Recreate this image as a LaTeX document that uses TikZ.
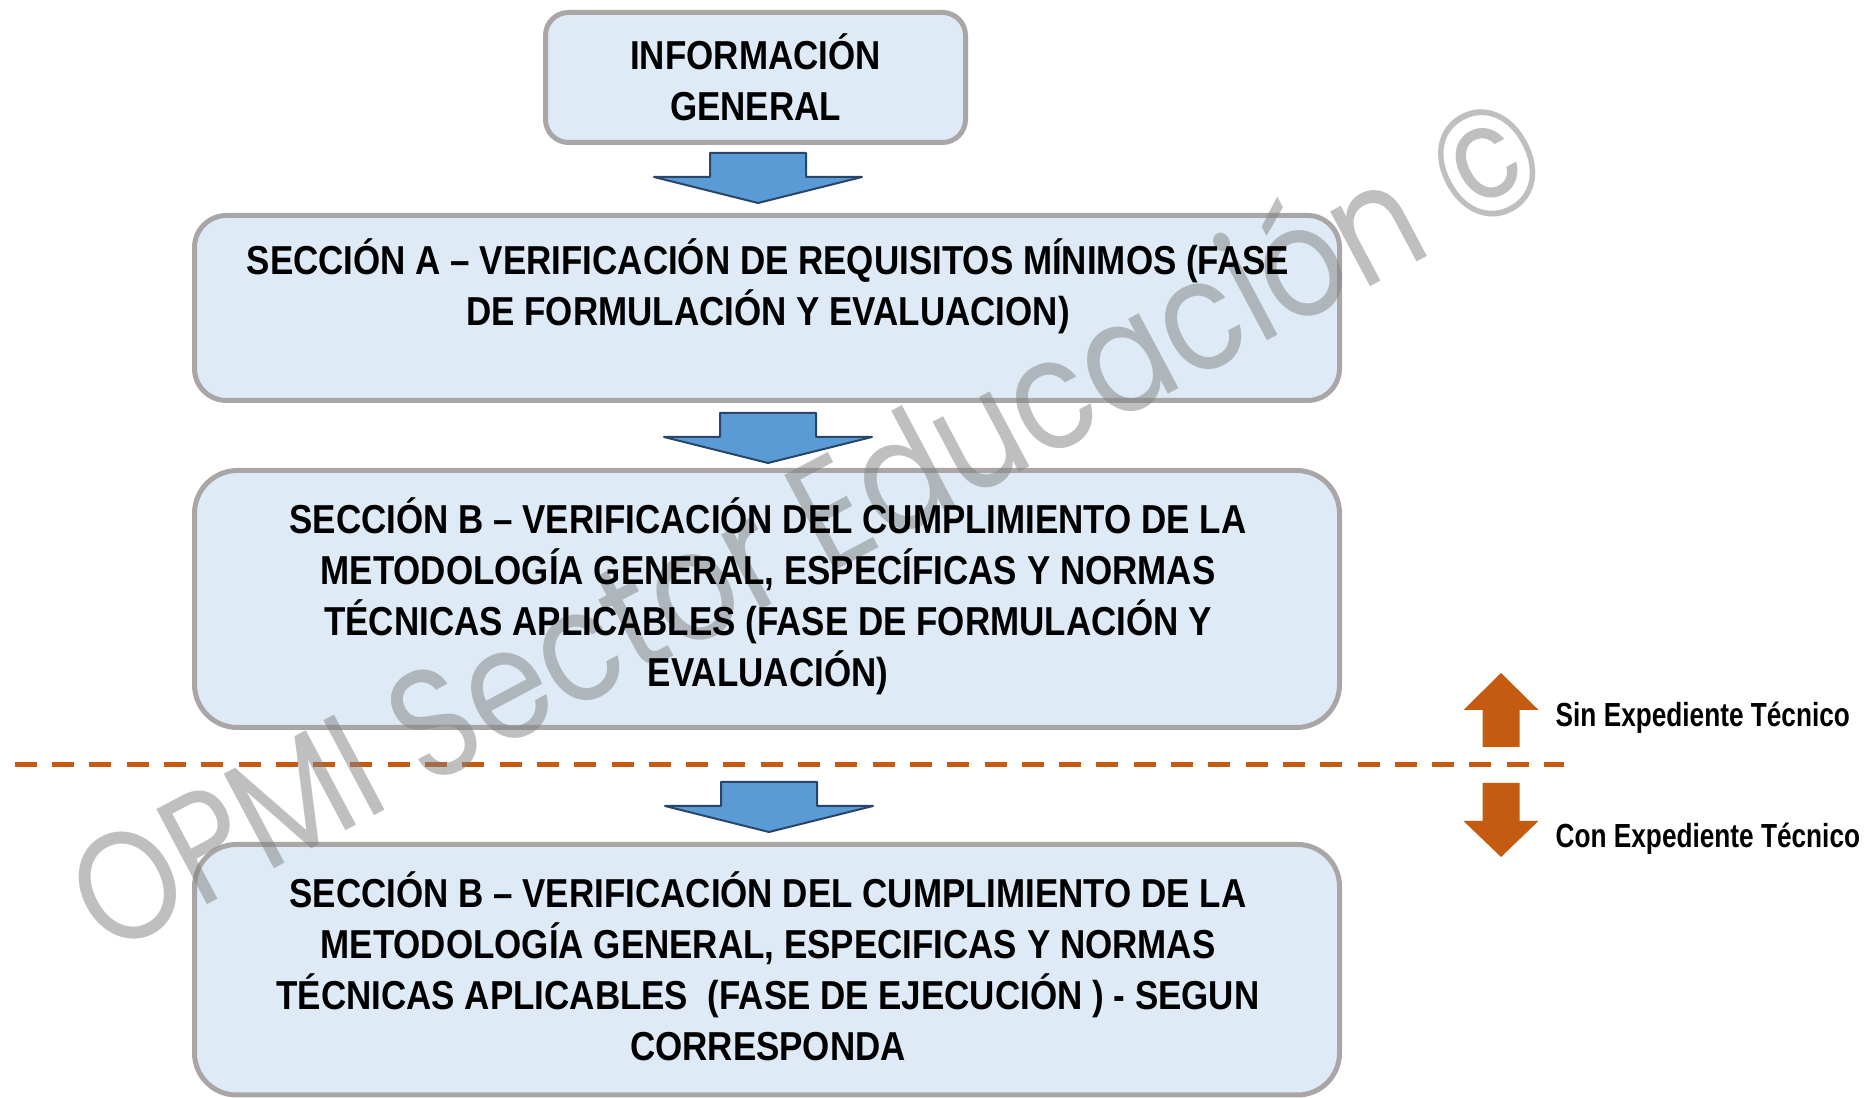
\documentclass[tikz,border=0pt]{standalone}
\usepackage{fontspec}
\setmainfont{Liberation Sans}[FakeStretch=0.865]
\newfontfamily\labelfont{Liberation Sans}[FakeStretch=0.785]
\newfontfamily\wmfont{Poppins}[FakeStretch=0.85]
\definecolor{boxfill}{RGB}{222,235,247}
\definecolor{boxline}{RGB}{170,166,166}
\definecolor{arrfill}{RGB}{91,155,213}
\definecolor{arrline}{RGB}{40,70,105}
\definecolor{phaseorange}{RGB}{197,90,17}
\definecolor{wmgray}{RGB}{128,128,128}
\usetikzlibrary{calc}

\begin{document}
\begin{tikzpicture}[
    secbox/.style={draw=boxline,fill=boxfill,line width=0.05cm,rounded corners=#1,inner sep=0pt},
    sectext/.style={font=\bfseries\fontsize{11.5}{14.5}\selectfont,align=center,inner sep=0pt},
    sidetext/.style={font=\labelfont\bfseries\fontsize{9.5}{11}\selectfont,anchor=west,inner sep=0pt}
  ]
  \useasboundingbox (0,0) rectangle (18.65,10.98);
  % boxes
  \node[secbox=0.23cm,minimum width=4.20cm,minimum height=1.30cm] (info) at (7.555,10.205) {};
  \node[secbox=0.32cm,minimum width=11.45cm,minimum height=1.85cm] (secA) at (7.67,7.90) {};
  \node[secbox=0.43cm,minimum width=11.45cm,minimum height=2.57cm] (secB) at (7.67,4.99) {};
  \node[secbox=0.42cm,minimum width=11.45cm,minimum height=2.505cm] (secBe) at (7.67,1.2825) {};
  % block arrows between the boxes
  \foreach \x/\y in {7.58/9.45, 7.68/6.85, 7.69/3.16} {
    \filldraw[fill=arrfill,draw=arrline,line width=0.02cm,line join=round]
      (\x-0.48,\y) -- (\x+0.48,\y) -- (\x+0.48,\y-0.24) -- (\x+1.04,\y-0.24)
      -- (\x,\y-0.50) -- (\x-1.04,\y-0.24) -- (\x-0.48,\y-0.24) -- cycle;
  }
  % phase divider
  \draw[phaseorange,line width=0.05cm,dash pattern=on 0.22cm off 0.153cm] (0.147,3.33) -- (15.64,3.33);
  % up / down markers
  \fill[phaseorange] (15.01,4.25) -- (15.385,3.88) -- (15.195,3.88) -- (15.195,3.51)
    -- (14.825,3.51) -- (14.825,3.88) -- (14.635,3.88) -- cycle;
  \fill[phaseorange] (15.01,2.41) -- (15.385,2.77) -- (15.195,2.77) -- (15.195,3.15)
    -- (14.825,3.15) -- (14.825,2.77) -- (14.635,2.77) -- cycle;
  \node[sidetext] (sinet) at (15.55,3.80) {Sin Expediente Técnico};
  \node[sidetext] (conet) at (15.55,2.595) {Con Expediente Técnico};
  % watermark
  \node[rotate=28,anchor=base,text=wmgray,text opacity=0.5,inner sep=0pt,
    font=\wmfont\fontsize{44}{52}\selectfont] (marca) at (8.33,5.26) {OPMI Sector Educación ©};
  % box texts
  \node[sectext] (infotxt) at (7.555,10.206) {INFORMACIÓN\\GENERAL};
  \node[sectext] (secAtxt) at (7.68,8.12) {SECCIÓN A – VERIFICACIÓN DE REQUISITOS MÍNIMOS (FASE\\DE FORMULACIÓN Y EVALUACION)};
  \node[sectext] (secBtxt) at (7.68,5.015) {SECCIÓN B – VERIFICACIÓN DEL CUMPLIMIENTO DE LA\\METODOLOGÍA GENERAL, ESPECÍFICAS Y NORMAS\\TÉCNICAS APLICABLES (FASE DE FORMULACIÓN Y\\EVALUACIÓN)};
  \node[sectext] (secBetxt) at (7.68,1.32) {SECCIÓN B – VERIFICACIÓN DEL CUMPLIMIENTO DE LA\\METODOLOGÍA GENERAL, ESPECIFICAS Y NORMAS\\TÉCNICAS APLICABLES\ \ (FASE DE EJECUCIÓN ) - SEGUN\\CORRESPONDA};
\end{tikzpicture}
\end{document}
